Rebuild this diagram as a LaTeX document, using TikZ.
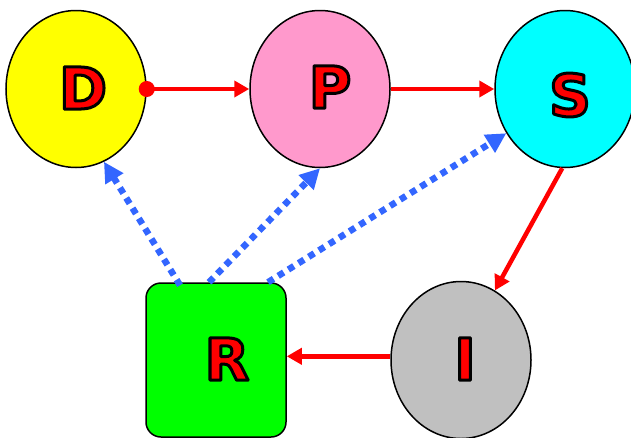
\documentclass[tikz,border=0pt]{standalone}
\usepackage{fontspec}
\setmainfont{DejaVu Sans}
\usetikzlibrary{arrows.meta,shapes.geometric}
\definecolor{dyellow}{RGB}{255,255,0}
\definecolor{ppink}{RGB}{255,153,204}
\definecolor{scyan}{RGB}{0,255,255}
\definecolor{igray}{RGB}{192,192,192}
\definecolor{rgreen}{RGB}{0,255,0}
\definecolor{linkblue}{RGB}{51,102,255}
% red letters with a thin black rim (fill + stroke rendering mode)
\newcommand{\outlined}[1]{\special{pdf:literal direct 0 0 0 RG 3 w 1 j 2 Tr}#1\special{pdf:literal direct 0 Tr}}
\begin{document}
\begin{tikzpicture}[x=1pt,y=-1pt,
  state/.style={ellipse,draw=black,line width=1.5pt,minimum width=140pt,
    minimum height=157pt,inner sep=0pt},
  boxstate/.style={rectangle,rounded corners=15pt,draw=black,line width=1.5pt,
    minimum width=140pt,minimum height=154pt,inner sep=0pt},
  letter/.style={text=red,font=\fontsize{58}{58}\selectfont\bfseries,inner sep=0pt},
  flow/.style={draw=red,line width=4.5pt,-{Triangle[length=15pt,width=16pt]}},
  link/.style={draw=linkblue,line width=6.5pt,dash pattern=on 6.5pt off 5.5pt,
    -{Triangle[length=20pt,width=20pt]}}]
\useasboundingbox (0,0) rectangle (631,437);

% states
\node[state,fill=dyellow] (D) at (76,89) {};
\node[state,fill=ppink]   (P) at (320,89) {};
\node[state,fill=scyan]   (S) at (565,89) {};
\node[state,fill=igray]   (I) at (461,360) {};
\node[boxstate,fill=rgreen] (R) at (216,360) {};

% letters
\node[letter] (Dl) at (83,88)  {\outlined{D}};
\node[letter] (Pl) at (330,87) {\outlined{P}};
\node[letter] (Sl) at (570,95) {\outlined{S}};
\node[letter] (Il) at (465,359) {\outlined{I}};
\node[letter] (Rl) at (227,359) {\outlined{R}};

% main cycle
\draw[flow,{Circle[length=16pt]}-{Triangle[length=15pt,width=16pt]},shorten <=-8pt] (D.east) -- (P.west);
\draw[flow] (P.east) -- (S.west);
\draw[flow] (S.268) -- (I.64);
\draw[flow] (I.177) -- (I.177 -| R.east);

% dotted feedback links
\draw[link] ([xshift=-36pt,yshift=-3pt]R.north) -- (D.291);
\draw[link] ([xshift=-7pt]R.north) -- (P.south);
\draw[link] ([xshift=52pt]R.north) -- (S.217);
\end{tikzpicture}
\end{document}
